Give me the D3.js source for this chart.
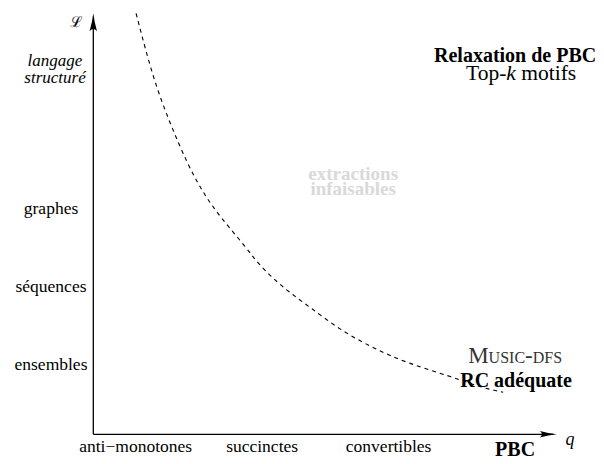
<!DOCTYPE html>
<html><head><meta charset="utf-8">
<script src="https://cdn.jsdelivr.net/npm/d3@7"></script>
<style>body{margin:0;background:#fff}</style>
</head><body>
<script>
// ---- data ----
const xCategories = ["anti−monotones", "succinctes", "convertibles"];
const yCategories = ["ensembles", "séquences", "graphes"];
const curveQ = [9.3, 13.1, 16.7, 20.4, 23.9, 27.6, 33.4, 35.7, 41.3, 47.2, 53.7, 60.9, 68.3, 78.3, 84.1, 89.1];
const curveL = [100.2, 84.3, 74.0, 64.5, 57.4, 51.7, 44.3, 40.7, 34.8, 30.2, 24.8, 20.5, 16.9, 13.6, 11.2, 10.0];
const xAxisTitle = "PBC";
const xAxisSymbol = "q";
const yAxisSymbol = "ℒ";
const yAxisTitle = ["langage", "structuré"];
const regionLabel = ["extractions", "infaisables"];

const W = 604, H = 464;
const FONT = '"Liberation Serif", "Times New Roman", "Tinos"';
const svg = d3.select("body").append("svg").attr("width", W).attr("height", H);
const addText = (sel) => sel.append("text").style("font-family", FONT);

const x = d3.scaleLinear().domain([0, 100]).range([93.3, 553.3]);
const y = d3.scaleLinear().domain([0, 100]).range([434.3, 14.3]);
const xc = d3.scalePoint().domain(xCategories).range([x(9.2), x(64.2)]);
const yc = d3.scalePoint().domain(yCategories).range([y(15.3), y(52.5)]);

// axes
svg.append("line").attr("x1", x(0)).attr("y1", y(0)).attr("x2", x(0)).attr("y2", y(100) + 10)
  .attr("stroke", "#000").attr("stroke-width", 1.3);
svg.append("line").attr("x1", x(0)).attr("y1", y(0)).attr("x2", x(100)).attr("y2", y(0))
  .attr("stroke", "#000").attr("stroke-width", 1.3);

function arrow(tx, ty, angle, L, w) {
  const p = d3.path();
  p.moveTo(0, 0);
  p.quadraticCurveTo(-L * 0.5, w * 0.3, -L, w);
  p.quadraticCurveTo(-L * 0.75, 0, -L, -w);
  p.quadraticCurveTo(-L * 0.5, -w * 0.3, 0, 0);
  p.closePath();
  svg.append("path").attr("d", p.toString())
    .attr("transform", `translate(${tx},${ty}) rotate(${angle})`).attr("fill", "#000");
}
arrow(x(0), y(100) - 1, -90, 18, 3.7);
arrow(x(100) + 3.5, y(0), 0, 17, 3.2);

// category labels
svg.append("g").selectAll("text").data(xCategories).join("text")
  .style("font-family", FONT)
  .attr("x", d => xc(d)).attr("y", 452).attr("text-anchor", "middle")
  .attr("font-size", 17.5).text(d => d);
svg.append("g").selectAll("text").data(yCategories).join("text")
  .style("font-family", FONT)
  .attr("x", 51).attr("y", d => yc(d)).attr("text-anchor", "middle")
  .attr("font-size", 17.5).text(d => d);

// axis titles
addText(svg).attr("x", x(91.7)).attr("y", 455.5).attr("text-anchor", "middle")
  .attr("font-size", 20).attr("font-weight", "bold").text(xAxisTitle);
addText(svg).attr("x", 570).attr("y", 445).attr("text-anchor", "middle")
  .attr("font-size", 18).attr("font-style", "italic").text(xAxisSymbol);
addText(svg).attr("x", 76).attr("y", 27).attr("text-anchor", "middle")
  .attr("font-size", 15).text(yAxisSymbol);
svg.append("g").selectAll("text").data(yAxisTitle).join("text")
  .style("font-family", FONT)
  .attr("x", 55).attr("y", (d, i) => 66 + i * 17).attr("text-anchor", "middle")
  .attr("font-size", 17).attr("font-style", "italic").text(d => d);

// curve
const pts = curveQ.map((q, i) => [q, curveL[i]]);
svg.append("path").datum(pts)
  .attr("d", d3.line().x(d => x(d[0])).y(d => y(d[1])).curve(d3.curveBasis))
  .attr("fill", "none").attr("stroke", "#000").attr("stroke-width", 1.1)
  .attr("stroke-dasharray", "4,4");

// region label
svg.append("g").selectAll("text").data(regionLabel).join("text")
  .style("font-family", FONT)
  .attr("x", x(56.5)).attr("y", (d, i) => y(60.5) + i * 15).attr("text-anchor", "middle")
  .attr("font-size", 19).attr("font-weight", "bold").attr("fill", "#d9d9d9").text(d => d);

// top-right annotations
addText(svg).attr("x", x(91.7)).attr("y", y(88.6)).attr("text-anchor", "middle")
  .attr("font-size", 20).attr("font-weight", "bold").text("Relaxation de PBC");
const tk = addText(svg).attr("x", x(93.0)).attr("y", y(84.3)).attr("text-anchor", "middle")
  .attr("font-size", 21.5);
tk.append("tspan").text("Top-");
tk.append("tspan").attr("font-style", "italic").text("k");
tk.append("tspan").text(" motifs");

// bottom-right annotations
addText(svg).attr("x", x(91.7)).attr("y", y(17.0)).attr("text-anchor", "middle")
  .attr("font-size", 23).attr("fill", "#333").style("font-variant", "small-caps").text("Music-dfs");
addText(svg).attr("x", x(91.9)).attr("y", y(11.2)).attr("text-anchor", "middle")
  .attr("font-size", 20).attr("font-weight", "bold").text("RC adéquate");
</script>
</body></html>
